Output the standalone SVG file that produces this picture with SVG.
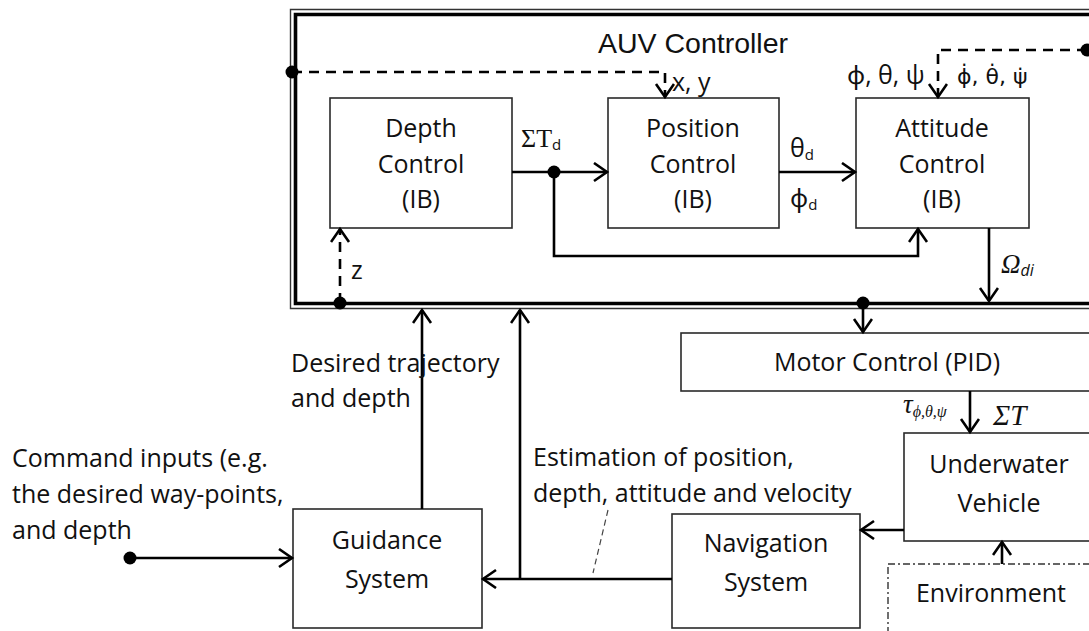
<svg xmlns="http://www.w3.org/2000/svg" width="1089" height="631" viewBox="0 0 1089 631">
<style>
  .box { fill: #fff; stroke: #2a2a2a; stroke-width: 1.6; }
  .t { font-family: "Open Sans", "Noto Sans", sans-serif; font-size: 25px; fill: #111; }
  .c { text-anchor: middle; }
  .ln { fill: none; stroke: #000; stroke-width: 2.6; }
  .dash { stroke-dasharray: 10 7; }
  .dot { fill: #000; }
  .serif { font-family: "Liberation Serif", "DejaVu Serif", serif; fill: #111; }
</style>
<defs>
  <marker id="ah" markerUnits="userSpaceOnUse" markerWidth="18" markerHeight="22" refX="15" refY="10" orient="auto">
    <path d="M2,1 L15,10 L2,19" fill="none" stroke="#000" stroke-width="2.6"/>
  </marker>
</defs>
<rect width="1089" height="631" fill="#fff"/>

<g id="auv-controller">
  <path d="M1095,9.5 H290.5 V308.5 H1095" fill="none" stroke="#333" stroke-width="1.4"/>
  <path d="M1095,14.5 H295.5 V303.5 H1095" fill="none" stroke="#000" stroke-width="3.6"/>
  <text x="693" y="53" font-family="Liberation Sans, Arial, sans-serif" font-size="28.5" text-anchor="middle" fill="#111">AUV Controller</text>
</g>

<g id="depth-control">
  <rect class="box" x="330" y="98" width="182" height="130"/>
  <text class="t c" x="421" y="137">Depth</text>
  <text class="t c" x="421" y="173">Control</text>
  <text class="t c" x="421" y="208">(IB)</text>
</g>

<g id="position-control">
  <rect class="box" x="608" y="98" width="171" height="130"/>
  <text class="t c" x="693" y="137">Position</text>
  <text class="t c" x="693" y="173">Control</text>
  <text class="t c" x="693" y="208">(IB)</text>
</g>

<g id="attitude-control">
  <rect class="box" x="856" y="98" width="173" height="130"/>
  <text class="t c" x="942" y="137">Attitude</text>
  <text class="t c" x="942" y="173">Control</text>
  <text class="t c" x="942" y="208">(IB)</text>
</g>

<g id="motor-control">
  <rect class="box" x="681" y="333" width="420" height="58"/>
  <text class="t c" x="887" y="371">Motor Control (PID)</text>
</g>

<g id="underwater-vehicle">
  <rect class="box" x="904" y="433" width="200" height="108"/>
  <text class="t c" x="999" y="473">Underwater</text>
  <text class="t c" x="999" y="512">Vehicle</text>
</g>

<g id="environment">
  <rect x="888" y="564" width="210" height="80" fill="#fff" stroke="#333" stroke-width="1.4" stroke-dasharray="7 3 2 3"/>
  <text class="t c" x="991" y="602">Environment</text>
</g>

<g id="navigation-system">
  <rect class="box" x="672" y="514" width="188" height="114"/>
  <text class="t c" x="766" y="552">Navigation</text>
  <text class="t c" x="766" y="591">System</text>
</g>

<g id="guidance-system">
  <rect class="box" x="293" y="509" width="189" height="119"/>
  <text class="t c" x="387" y="549">Guidance</text>
  <text class="t c" x="387" y="588">System</text>
</g>

<g id="connectors">
  <path class="ln" d="M512,172 H607" marker-end="url(#ah)"/>
  <path class="ln" d="M554,172 V256 H918 V229" marker-end="url(#ah)"/>
  <path class="ln" d="M779,172 H855" marker-end="url(#ah)"/>
  <path class="ln" d="M989,228 V301" marker-end="url(#ah)"/>
  <path class="ln dash" d="M292,72 H665 V97" marker-end="url(#ah)"/>
  <path class="ln dash" d="M1087,50 H938 V97" marker-end="url(#ah)"/>
  <path class="ln dash" d="M340,303 V229" marker-end="url(#ah)"/>
  <path class="ln" d="M863,303 V332" marker-end="url(#ah)"/>
  <path class="ln" d="M970,391 V432" marker-end="url(#ah)"/>
  <path class="ln" d="M904,530 H861" marker-end="url(#ah)"/>
  <path class="ln" d="M1002,564 V542" marker-end="url(#ah)"/>
  <path class="ln" d="M672,579 H483" marker-end="url(#ah)"/>
  <path class="ln" d="M520,579 V310" marker-end="url(#ah)"/>
  <path class="ln" d="M422,509 V310" marker-end="url(#ah)"/>
  <path class="ln" d="M130,558 H292" marker-end="url(#ah)"/>
  <path d="M608,510 L593,573" fill="none" stroke="#444" stroke-width="1.2" stroke-dasharray="6 4"/>
  <circle class="dot" cx="292" cy="72" r="6.5"/>
  <circle class="dot" cx="1087" cy="50" r="6.5"/>
  <circle class="dot" cx="554" cy="172" r="6.5"/>
  <circle class="dot" cx="340" cy="303" r="6.5"/>
  <circle class="dot" cx="863" cy="303" r="6.5"/>
  <circle class="dot" cx="130" cy="558" r="6.5"/>
</g>

<g id="labels">
  <text x="521" y="147" class="serif" font-size="26">ΣT<tspan font-family="Open Sans, sans-serif" font-size="15" dy="3">d</tspan></text>
  <text class="t" x="672" y="91">x, y</text>
  <text class="t" x="790" y="157">θ<tspan font-size="15" dy="3">d</tspan></text>
  <text class="t" x="790" y="207">ϕ<tspan font-size="15" dy="3">d</tspan></text>
  <text class="t" x="847" y="84">ϕ, θ, ψ</text>
  <text x="957" y="84" font-family="DejaVu Sans, sans-serif" font-size="22" fill="#111">ϕ̇, θ̇, ψ̇</text>
  <text class="t" x="351" y="279">z</text>
  <text x="1001" y="273" class="serif" font-size="27" font-style="italic">Ω<tspan font-family="Open Sans, sans-serif" font-size="16" dy="3">di</tspan></text>
  <text x="903" y="413" class="serif" font-size="27" font-style="italic">τ<tspan font-size="16" dy="4">ϕ,θ,ψ</tspan></text>
  <text x="993" y="425" class="serif" font-size="29" font-style="italic">ΣT</text>
  <text class="t" x="291" y="372">Desired trajectory</text>
  <text class="t" x="291" y="407">and depth</text>
  <text class="t" x="12" y="467">Command inputs (e.g.</text>
  <text class="t" x="12" y="503">the desired way-points,</text>
  <text class="t" x="12" y="539">and depth</text>
  <text class="t" x="533" y="466">Estimation of position,</text>
  <text class="t" x="533" y="502">depth, attitude and velocity</text>
</g>
</svg>
